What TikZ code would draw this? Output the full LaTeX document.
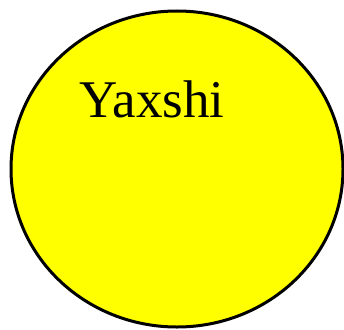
\documentclass[tikz,border=0pt]{standalone}
\usepackage{fontspec}
\setmainfont{Liberation Serif}
\usetikzlibrary{shapes.geometric}
\definecolor{blobyellow}{RGB}{255,255,0}
\begin{document}
\begin{tikzpicture}[
  x=1pt, y=1pt,
  blob/.style={draw, line width=3pt, fill=blobyellow, ellipse,
    minimum width=332pt, minimum height=316pt, inner sep=0pt},
  lbl/.style={font=\fontsize{53}{60}\selectfont, inner sep=0pt, anchor=base}
]
\useasboundingbox (0,0) rectangle (344,-329);
\node[blob] (oval) at (177,-169) {};
\node[lbl] (word) at (152,-117) {Yaxshi};
\end{tikzpicture}
\end{document}
